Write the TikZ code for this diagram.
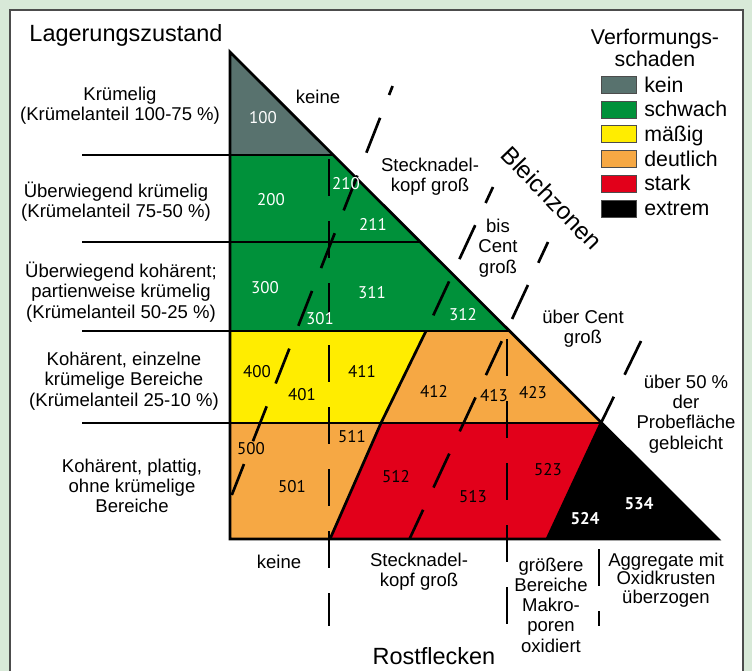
\documentclass[tikz,border=0pt]{standalone}
\usepackage{fontspec}
\setmainfont{Liberation Sans}
\newfontfamily\numfont{PT Sans}
\definecolor{bgc}{RGB}{216,233,216}
\definecolor{cgrey}{RGB}{88,114,110}
\definecolor{cgreen}{RGB}{0,145,58}
\definecolor{cyellow}{RGB}{255,237,0}
\definecolor{corange}{RGB}{246,168,68}
\definecolor{cred}{RGB}{226,0,26}
\begin{document}
\begin{tikzpicture}[x=0.75pt,y=-0.75pt,
  txt/.style={font=\fontsize{13.9}{15.2}\selectfont, align=center, inner sep=0pt},
  hdr/.style={font=\fontsize{17.6}{20}\selectfont, inner sep=0pt},
  leg/.style={font=\fontsize{16}{16.5}\selectfont, inner sep=0pt},
  num/.style={font=\numfont\fontsize{12.7}{14}\selectfont, inner sep=0pt},
  wnum/.style={num, text=white},
  bnum/.style={font=\numfont\bfseries\fontsize{12.7}{14}\selectfont, inner sep=0pt, text=white},
  solidline/.style={line width=2.05pt},
  dashline/.style={line width=2pt, dash pattern=on 28.1pt off 18.4pt},
  legbox/.style={draw=black!70, line width=0.6pt, minimum width=26.25pt, minimum height=12.75pt, inner sep=0pt}
]
\useasboundingbox (0,0) rectangle (752,671);
\fill[bgc] (0,0) rectangle (752,671);
\fill[white] (10,10) rectangle (743,671);
\draw[black!70, line width=0.8pt] (10,671) -- (10,10) -- (743,10) -- (743,671);

% key points
\coordinate (apex) at (230,52);
\coordinate (br) at (718,539);
\coordinate (bl) at (230,539);
\coordinate (h1) at (333,155);
\coordinate (h2) at (420,242);
\coordinate (h3) at (509,331);
\coordinate (h4) at (601,423);
\coordinate (l1) at (230,155);
\coordinate (l3) at (230,331);
\coordinate (l4) at (230,423);
\coordinate (b3) at (426,331);
\coordinate (b4) at (381,423);
\coordinate (b5) at (330,539);
\coordinate (k5) at (547,539);

% regions
\fill[cgrey] (apex) -- (h1) -- (l1) -- cycle;
\fill[cgreen] (l1) -- (h1) -- (h3) -- (l3) -- cycle;
\fill[cyellow] (l3) -- (b3) -- (b4) -- (l4) -- cycle;
\fill[corange] (b3) -- (h3) -- (h4) -- (b4) -- cycle;
\fill[corange] (l4) -- (b4) -- (b5) -- (bl) -- cycle;
\fill[cred] (b4) -- (h4) -- (k5) -- (b5) -- cycle;
\fill[black] (h4) -- (br) -- (k5) -- cycle;

% solid lines
\draw[solidline] (apex) -- (br) -- (bl) -- cycle;
\draw[solidline] (82,155) -- (h1);
\draw[solidline] (82,242) -- (h2);
\draw[solidline] (82,331) -- (h3);
\draw[solidline] (82,423) -- (h4);
\draw[solidline] (b3) -- (b4) -- (b5);
\draw[solidline] (h4) -- (k5);

% dashed lines (Bleichzonen)
\draw[dashline, dash phase=20.85pt] (392.6,86) -- (231.8,495);
\draw[dashline, dash phase=14.9pt] (493,187) -- (b3);
\draw[dashline, dash phase=10.9pt] (548,242) -- (409.5,539);
\draw[dashline] (641,341) -- (h4);
% dashed lines (Rostflecken)
\draw[dashline] (329,159) -- (329,626);
\draw[dashline] (507,339) -- (507,624);
\draw[dashline] (599,549) -- (599,626);

% headers
\node[hdr] (lager) at (126,35) {Lagerungszustand};
\node[hdr] (rost) at (434,656) {Rostflecken};
\node[hdr, font=\fontsize{18.2}{20}\selectfont, rotate=-46] (bleich) at (552,198) {Bleichzonen};

% left labels
\node[txt] (s1) at (120,106) {Krümelig\\(Krümelanteil 100-75 \%)};
\node[txt] (s2) at (116,202) {Überwiegend krümelig\\(Krümelanteil 75-50 \%)};
\node[txt] (s3) at (121,292) {Überwiegend kohärent;\\partienweise krümelig\\(Krümelanteil 50-25 \%)};
\node[txt] (s4) at (124,381) {Kohärent, einzelne\\krümelige Bereiche\\(Krümelanteil 25-10 \%)};
\node[txt] (s5) at (132,486) {Kohärent, plattig,\\ohne krümelige\\Bereiche};

% Bleichzonen labels
\node[txt] (bz0) at (318,97) {keine};
\node[txt] (bz1) at (430,177) {Stecknadel-\\kopf groß};
\node[txt] (bz2) at (498,248) {bis\\Cent\\groß};
\node[txt] (bz3) at (583,329) {über Cent\\groß};
\node[txt] (bz4) at (686,414) {über 50 \%\\der\\Probefläche\\gebleicht};

% Rostflecken labels
\node[txt] (rf0) at (279,562) {keine};
\node[txt] (rf1) at (419,572) {Stecknadel-\\kopf groß};
\node[txt] (rf2) at (551,605) {größere\\Bereiche\\Makro-\\poren\\oxidiert};
\node[txt, font=\fontsize{13.9}{14}\selectfont] (rf3) at (666,580) {Aggregate mit\\Oxidkrusten\\überzogen};

% legend
\node[leg, align=center] (legt) at (655,48) {Verformungs-\\schaden};
\foreach \i/\c/\t in {0/cgrey/kein, 1/cgreen/schwach, 2/cyellow/mäßig, 3/corange/deutlich, 4/cred/stark, 5/black/extrem}{
  \node[legbox, fill=\c, anchor=north west] (lb\i) at (601,76+24.7*\i) {};
  \node[leg, anchor=base west] (ll\i) at (644,92+24.7*\i) {\t};
}

% region numbers
\node[wnum] (n100) at (263,118) {100};
\node[wnum] (n200) at (271,200) {200};
\node[wnum] (n210) at (346,184) {210};
\node[wnum] (n211) at (373,224) {211};
\node[wnum] (n300) at (265,288) {300};
\node[wnum] (n311) at (372,293) {311};
\node[wnum] (n301) at (320,319) {301};
\node[wnum] (n312) at (463,315) {312};
\node[num] (n400) at (257,372) {400};
\node[num] (n401) at (302,395) {401};
\node[num] (n411) at (362,371) {411};
\node[num] (n412) at (434,391) {412};
\node[num] (n413) at (494,396) {413};
\node[num] (n423) at (533,393) {423};
\node[num] (n500) at (251,449) {500};
\node[num] (n501) at (292,487) {501};
\node[num] (n511) at (352,437) {511};
\node[num] (n512) at (396,477) {512};
\node[num] (n513) at (473,497) {513};
\node[num] (n523) at (548,470) {523};
\node[bnum] (n524) at (585,519) {524};
\node[bnum] (n534) at (639,504) {534};
\end{tikzpicture}
\end{document}
